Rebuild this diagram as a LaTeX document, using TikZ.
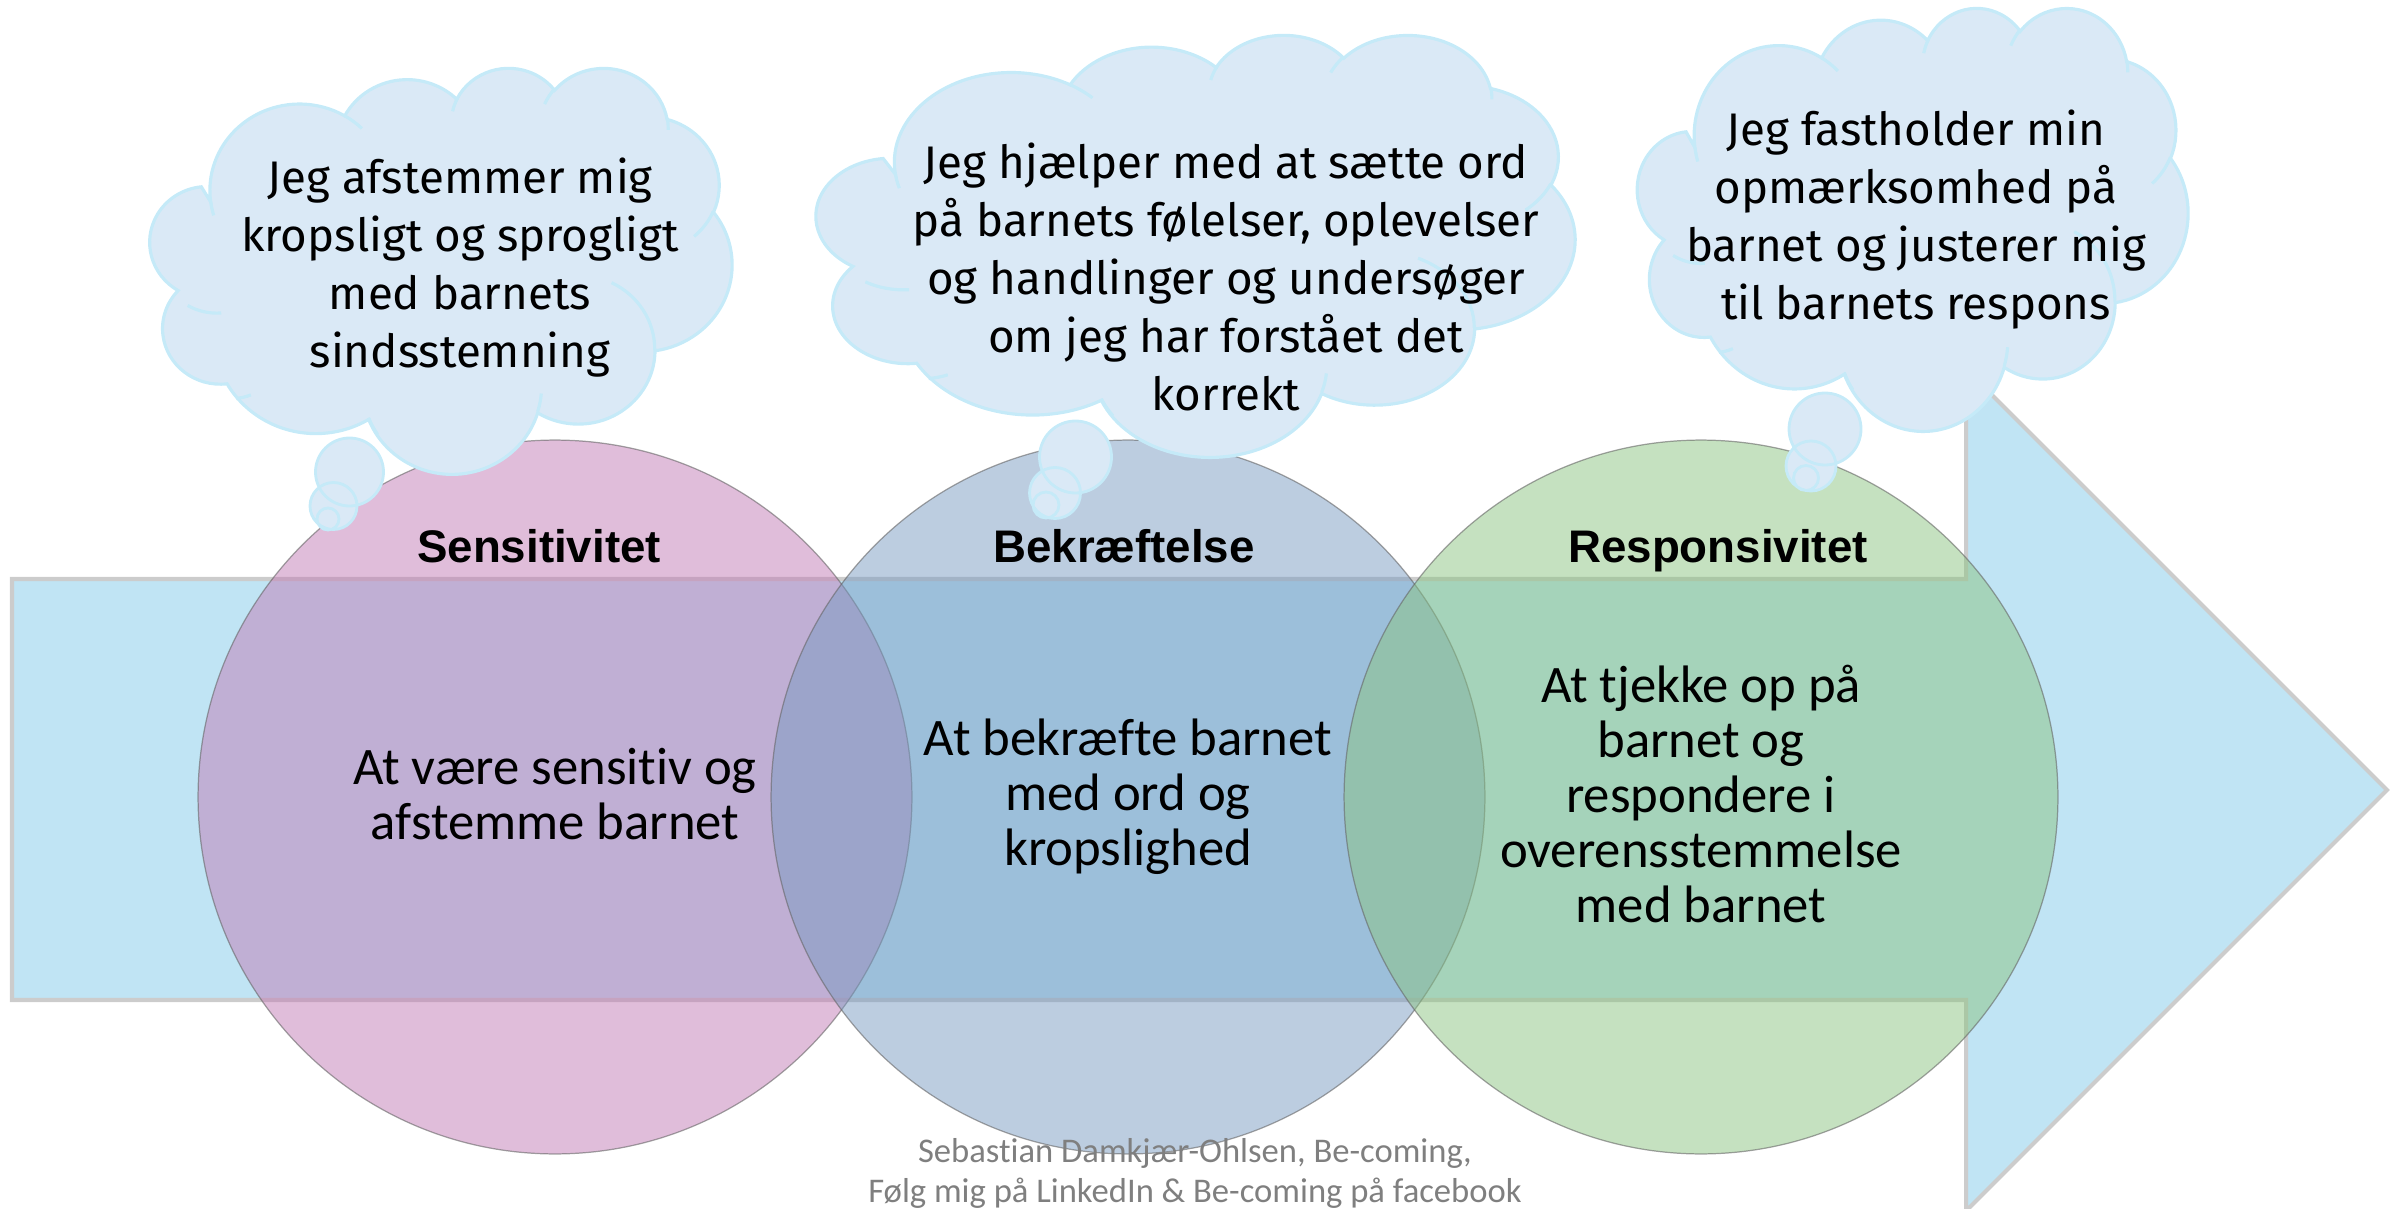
\documentclass[tikz,border=0pt]{standalone}
\usepackage{fontspec}
\setmainfont{Carlito}[Ligatures=NoCommon]
\newfontfamily\titlefont{Liberation Sans}
\newfontfamily\handfont{Fira Sans}[Ligatures=NoCommon]
\definecolor{arrowfill}{HTML}{C0E4F4}
\definecolor{arrowline}{HTML}{CCCCCC}
\definecolor{pinkc}{RGB}{193,123,181}
\definecolor{bluec}{RGB}{121,155,193}
\definecolor{greenc}{RGB}{139,195,129}
\definecolor{cloudfill}{HTML}{DAE9F6}
\definecolor{cloudline}{HTML}{C5EAF8}
\definecolor{creditgray}{HTML}{7F7F7F}

\newcommand\cldcalc[5]{%
  \pgfmathsetmacro\cldtmpS{atan2(#2*sin(#4), #3*cos(#4))}%
  \pgfmathsetmacro\cldtmpE{atan2(#2*sin(#4+#5), #3*cos(#4+#5))}%
  \pgfmathsetmacro\cldtmpD{mod(\cldtmpE-\cldtmpS+720,360)}%
  \expandafter\xdef\csname clds#1\endcsname{\cldtmpS}%
  \expandafter\xdef\csname cldd#1\endcsname{\cldtmpD}}

\newcommand\drawcloud[4]{%
  \pgfmathsetmacro\cldsx{#3*0.5690551/432}%
  \pgfmathsetmacro\cldsy{#4*0.5690551/432}%
  \begin{scope}[shift={(#1,#2)}, x=\cldsx pt, y=-\cldsy pt]
    \path[cloudbody] (39,143.7)
      arc[x radius=67.53, y radius=91.90, start angle=\cldsA, delta angle=\clddA]
      arc[x radius=53.33, y radius=72.67, start angle=\cldsB, delta angle=\clddB]
      arc[x radius=43.65, y radius=59.45, start angle=\cldsC, delta angle=\clddC]
      arc[x radius=48.57, y radius=65.95, start angle=\cldsD, delta angle=\clddD]
      arc[x radius=53.33, y radius=72.73, start angle=\cldsE, delta angle=\clddE]
      arc[x radius=67.75, y radius=92.20, start angle=\cldsF, delta angle=\clddF]
      arc[x radius=57.85, y radius=78.67, start angle=\cldsG, delta angle=\clddG]
      arc[x radius=67.52, y radius=92.15, start angle=\cldsH, delta angle=\clddH]
      arc[x radius=77.20, y radius=105.43, start angle=\cldsI, delta angle=\clddI]
      arc[x radius=43.60, y radius=59.18, start angle=\cldsJ, delta angle=\clddJ]
      arc[x radius=43.45, y radius=59.45, start angle=\cldsK, delta angle=\clddK]
      -- cycle;
    \path[cloudstub]
      (46.93,261.77) arc[x radius=43.45, y radius=59.45, start angle=\cldsa, delta angle=\cldda]
      (69.28,348.99) arc[x radius=43.60, y radius=59.18, start angle=\cldsb, delta angle=\clddb]
      (164.78,390.90) arc[x radius=67.52, y radius=92.15, start angle=\cldsc, delta angle=\clddc]
      (288.27,347.51) arc[x radius=67.52, y radius=92.15, start angle=\cldsd, delta angle=\clddd]
      (341.29,229.54) arc[x radius=57.85, y radius=78.67, start angle=\cldse, delta angle=\cldde]
      (417.98,153.54) arc[x radius=53.33, y radius=72.73, start angle=\cldsf, delta angle=\clddf]
      (383.24,54.26) arc[x radius=48.57, y radius=65.95, start angle=\cldsg, delta angle=\clddg]
      (290.78,39.52) arc[x radius=48.57, y radius=65.95, start angle=\cldsh, delta angle=\clddh]
      (221.41,47.20) arc[x radius=43.65, y radius=59.45, start angle=\cldsi, delta angle=\clddi]
      (140.00,51.92) arc[x radius=67.53, y radius=91.90, start angle=\cldsj, delta angle=\clddj]
      (41.27,157.89) arc[x radius=67.53, y radius=91.90, start angle=\cldsk, delta angle=\clddk];
  \end{scope}}

\begin{document}
\begin{tikzpicture}[x=0.02cm, y=-0.02cm,
  arrowshape/.style={fill=arrowfill, draw=arrowline, line width=2.3pt, line join=miter},
  venn/.style={circle, minimum size=14.28cm, inner sep=0pt, fill opacity=0.5, draw=black!60, draw opacity=0.6, line width=0.7pt},
  cloudbody/.style={fill=cloudfill, draw=cloudline, line width=1.8pt},
  cloudstub/.style={draw=cloudline, line width=1.8pt},
  bubblefill/.style={fill=cloudfill},
  bubbleline/.style={draw=cloudline, line width=1.6pt},
  handtxt/.style={font=\handfont\fontsize{26}{33}\selectfont, align=center, inner sep=0pt, text=black},
  titletxt/.style={font=\titlefont\bfseries\fontsize{26}{30}\selectfont, anchor=base, inner sep=0pt},
  bodytxt/.style={font=\fontsize{30}{31.3}\selectfont, align=center, inner sep=0pt},
  credittxt/.style={font=\fontsize{19.7}{22.8}\selectfont, align=center, inner sep=0pt, text=creditgray}
]
\cldcalc{A}{67.53}{91.90}{-190.4875}{123.7805}
\cldcalc{B}{53.33}{72.67}{-144.1024}{89.9452}
\cldcalc{C}{43.65}{59.45}{-145.8079}{99.7230}
\cldcalc{D}{48.57}{65.95}{-130.9861}{117.2417}
\cldcalc{E}{53.33}{72.73}{-78.7089}{109.0269}
\cldcalc{F}{67.75}{92.20}{-46.2673}{130.2690}
\cldcalc{G}{57.85}{78.67}{0.6250}{114.0333}
\cldcalc{H}{67.52}{92.15}{22.4654}{129.3485}
\cldcalc{I}{77.20}{105.43}{66.2358}{75.7070}
\cldcalc{J}{43.60}{59.18}{-274.9421}{146.7470}
\cldcalc{K}{43.45}{59.45}{-246.8285}{152.5189}
\cldcalc{a}{43.45}{59.45}{86.7420}{26.4295}
\cldcalc{b}{43.60}{59.18}{73.6105}{11.4475}
\cldcalc{c}{67.52}{92.15}{137.6242}{14.0811}
\cldcalc{d}{67.52}{92.15}{6.4533}{15.9984}
\cldcalc{e}{57.85}{78.67}{-70.2924}{70.9174}
\cldcalc{f}{53.33}{72.73}{30.3180}{27.7515}
\cldcalc{g}{48.57}{65.95}{-13.7443}{14.8547}
\cldcalc{h}{48.57}{65.95}{-149.1815}{18.1954}
\cldcalc{i}{43.65}{59.45}{-163.4943}{17.6864}
\cldcalc{j}{67.53}{91.90}{-66.7070}{12.3194}
\cldcalc{k}{67.53}{91.90}{157.6544}{11.8582}

\useasboundingbox (0,0) rectangle (2402,1209);

% big arrow
\draw[arrowshape] (12,579) -- (1966,579) -- (1966,369) -- (2387,790)
  -- (1966,1211) -- (1966,1000) -- (12,1000) -- cycle;

% circles
\node[venn, fill=pinkc]  (c1) at (555,797)  {};
\node[venn, fill=bluec]  (c2) at (1128,797) {};
\node[venn, fill=greenc] (c3) at (1701,797) {};

% clouds
\drawcloud{159}{67}{573}{406}
\drawcloud{828}{34}{747}{422}
\drawcloud{1646}{7}{542}{423}

% tail bubbles
\path[bubblefill] (349.5,472) circle[radius=34] (333.5,506) circle[radius=23.5] (328,519) circle[radius=11];
\path[bubblefill] (1075.5,457) circle[radius=36] (1055,493) circle[radius=25.5] (1046,505) circle[radius=13];
\path[bubblefill] (1825,429) circle[radius=36] (1811,466) circle[radius=25] (1806,478) circle[radius=12.5];
\path[bubbleline] (349.5,472) circle[radius=34] (333.5,506) circle[radius=23.5] (328,519) circle[radius=11];
\path[bubbleline] (1075.5,457) circle[radius=36] (1055,493) circle[radius=25.5] (1046,505) circle[radius=13];
\path[bubbleline] (1825,429) circle[radius=36] (1811,466) circle[radius=25] (1806,478) circle[radius=12.5];

% cloud texts
\node[handtxt] (h1) at (460,268) {Jeg afstemmer mig\\kropsligt og sprogligt\\med barnets\\sindsstemning};
\node[handtxt] (h2) at (1226,277) {Jeg hjælper med at sætte ord\\på barnets følelser, oplevelser\\og handlinger og undersøger\\om jeg har forstået det\\korrekt};
\node[handtxt] (h3) at (1916,220) {Jeg fastholder min\\opmærksomhed på\\barnet og justerer mig\\til barnets respons};

% titles
\node[titletxt] (s1) at (539,562)  {Sensitivitet};
\node[titletxt] (s2) at (1124,562) {Bekræftelse};
\node[titletxt] (s3) at (1718,562) {Responsivitet};

% body texts
\node[bodytxt] (b1) at (555,794)  {At være sensitiv og\\afstemme barnet};
\node[bodytxt] (b2) at (1128,797) {At bekræfte barnet\\med ord og\\kropslighed};
\node[bodytxt] (b3) at (1701,794) {At tjekke op på\\barnet og\\respondere i\\overensstemmelse\\med barnet};

% credit
\node[credittxt] (cr) at (1195,1173) {Sebastian Damkjær-Ohlsen, Be-coming,\\Følg mig på LinkedIn \& Be-coming på facebook};
\end{tikzpicture}
\end{document}
